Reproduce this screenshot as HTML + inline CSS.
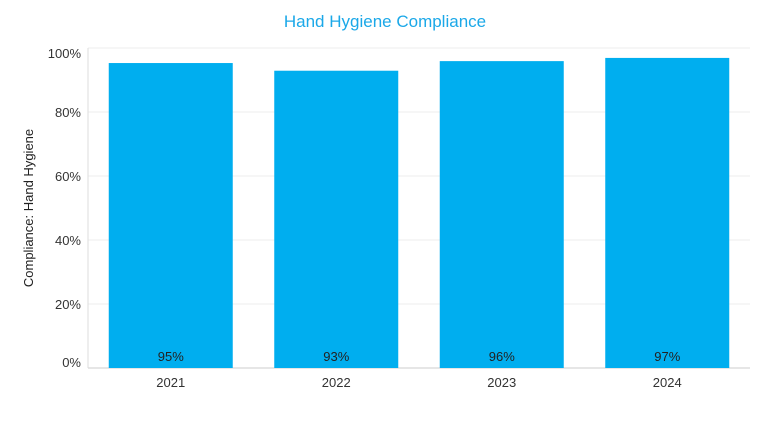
<!DOCTYPE html>
<html><head><meta charset="utf-8"><style>
body{margin:0;background:#fff;font-family:"Liberation Sans",sans-serif;}
svg text{font-family:"Liberation Sans",sans-serif;}
</style></head><body>
<svg id="chart" width="770" height="420" viewBox="0 0 770 420">
<text x="385" y="27" text-anchor="middle" font-size="17" fill="#1ba8e8">Hand Hygiene Compliance</text>
<text transform="translate(33,208) rotate(-90)" text-anchor="middle" font-size="13" fill="#222">Compliance: Hand Hygiene</text>
<g id="grid"></g><g id="bars"></g><g id="labels"></g>
</svg>
<script>
const categories=["2021","2022","2023","2024"];
const values=[95.3,92.9,95.9,96.9];
const valueLabels=["95%","93%","96%","97%"];
const yTicks=[0,20,40,60,80,100];
const tickLabels=["0%","20%","40%","60%","80%","100%"];
const NS="http://www.w3.org/2000/svg";
const x0=88,x1=750,yBase=368,yTop=48;
const y=v=>yBase-(v/100)*(yBase-yTop);
const band=(x1-x0)/categories.length;
const bx=i=>x0+band*i+(band-124)/2;
const svg=document.getElementById('chart');
const grid=document.getElementById('grid'),bars=document.getElementById('bars'),labels=document.getElementById('labels');
function mk(t,a){const e=document.createElementNS(NS,t);for(const k in a)e.setAttribute(k,a[k]);return e;}
yTicks.forEach((t,i)=>{
  const l=mk('line',{x1:x0,x2:x1,y1:y(t),y2:y(t),stroke:t===0?'#ccc':'#eee','stroke-width':1});
  
  
  grid.appendChild(l);
  let ty=y(t)+5; if(t===100)ty+=5; if(t===0)ty-=6;
  const tx=mk('text',{x:81,y:ty,'text-anchor':'end','font-size':13,fill:'#333'});
  tx.textContent=tickLabels[i];
  
  
  labels.appendChild(tx);
});
const ax=mk('line',{x1:x0,x2:x0,y1:yTop,y2:yBase,stroke:'#ddd'});


grid.appendChild(ax);
categories.forEach((c,i)=>{
  const r=mk('rect',{x:bx(i),y:y(values[i]),width:124,height:yBase-y(values[i]),fill:'#00aeef'});
  
  
  bars.appendChild(r);
  const vl=mk('text',{x:bx(i)+62,y:361,'text-anchor':'middle','font-size':13,fill:'#222'});
  vl.textContent=valueLabels[i];
  
  
  labels.appendChild(vl);
  const xl=mk('text',{x:bx(i)+62,y:387,'text-anchor':'middle','font-size':13,fill:'#333'});
  xl.textContent=c;
  
  
  labels.appendChild(xl);
});
</script>
</body></html>
